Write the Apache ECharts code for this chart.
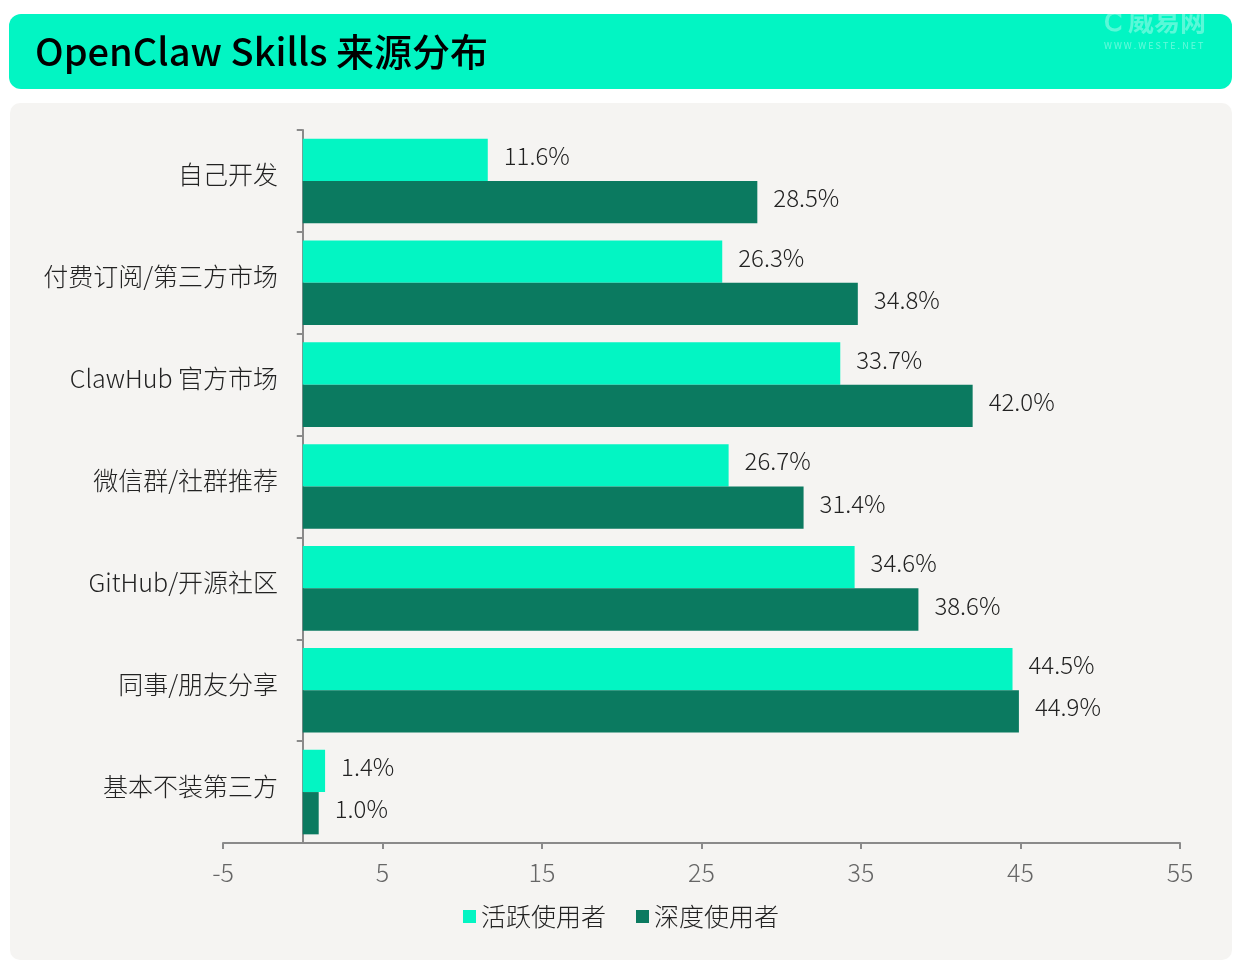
<!DOCTYPE html>
<html><head><meta charset="utf-8">
<script src="https://cdn.jsdelivr.net/npm/echarts@6/dist/echarts.min.js"></script>
<style>html,body{margin:0;padding:0;background:#fff}#c{width:1242px;height:968px}</style>
</head><body><div id="c"></div>
<script>
const categories = ['自己开发','付费订阅/第三方市场','ClawHub 官方市场','微信群/社群推荐','GitHub/开源社区','同事/朋友分享','基本不装第三方'];
const activeUsers = [11.6, 26.3, 33.7, 26.7, 34.6, 44.5, 1.4];
const deepUsers = [28.5, 34.8, 42.0, 31.4, 38.6, 44.9, 1.0];
const seriesNames = ['活跃使用者','深度使用者'];
const xTicks = {min: -5, max: 55, interval: 10};
const titleText = 'OpenClaw Skills 来源分布';

const FONT = '"Noto Sans CJK SC", "Noto Sans", sans-serif';
const chart = echarts.init(document.getElementById('c'), null, {renderer: 'canvas'});
const labelCfg = {show: true, position: 'right', distance: 16, offset: [0, -4], fontSize: 24, fontWeight: 300, color: '#222', fontFamily: FONT,
  formatter: p => p.value.toFixed(1) + '%'};
chart.setOption({
  backgroundColor: '#ffffff',
  animation: false,
  textStyle: {fontFamily: FONT},
  graphic: [
    {type: 'rect', z: -10, shape: {x: 9, y: 14, width: 1223, height: 75, r: 12}, style: {fill: '#02F5C3'}},
    {type: 'rect', z: -10, shape: {x: 10, y: 103, width: 1222, height: 857, r: 10}, style: {fill: '#F5F4F2'}},
    {type: 'text', z: 5, left: 35, top: 33, style: {text: titleText, font: '500 38px ' + FONT, fill: '#000'}},
    {type: 'text', z: 5, left: 1104, top: 8, style: {text: 'Ⅽ 威易网', font: 'bold 26px ' + FONT, fill: 'rgba(255,255,255,0.35)'}},
    {type: 'text', z: 5, left: 1104, top: 41, style: {text: 'W W W . W E S T E . N E T', font: '9px ' + FONT, fill: 'rgba(255,255,255,0.4)'}}
  ],
  legend: {
    bottom: 34, left: 'center', itemWidth: 13, itemHeight: 13, itemGap: 30,
    icon: 'rect',
    textStyle: {fontSize: 25, fontWeight: 300, color: '#222', fontFamily: FONT},
    data: seriesNames
  },
  grid: {left: 223, right: 62, top: 130, bottom: 125, containLabel: false, outerBoundsMode: 'none'},
  xAxis: {
    type: 'value', min: xTicks.min, max: xTicks.max, interval: xTicks.interval,
    axisLine: {show: true, lineStyle: {color: '#8a8a8a', width: 2}},
    axisTick: {show: true, length: 6, lineStyle: {color: '#8a8a8a', width: 2}},
    axisLabel: {fontSize: 25, fontWeight: 300, color: '#666', margin: 17, fontFamily: FONT},
    splitLine: {show: false}
  },
  yAxis: {
    type: 'category', inverse: true, data: categories,
    axisLine: {show: true, onZero: true, lineStyle: {color: '#8a8a8a', width: 2}},
    axisTick: {show: true, length: 6, lineStyle: {color: '#8a8a8a', width: 2}},
    axisLabel: {fontSize: 25, fontWeight: 300, color: '#222', margin: -55, fontFamily: FONT,
                verticalAlign: 'bottom', lineHeight: 12}
  },
  series: [
    {name: seriesNames[0], type: 'bar', data: activeUsers, barGap: '0%', barCategoryGap: '17%',
     itemStyle: {color: '#03F5C3'}, label: labelCfg},
    {name: seriesNames[1], type: 'bar', data: deepUsers, barGap: '0%', barCategoryGap: '17%',
     itemStyle: {color: '#0B7A60'}, label: labelCfg}
  ]
});
</script></body></html>
